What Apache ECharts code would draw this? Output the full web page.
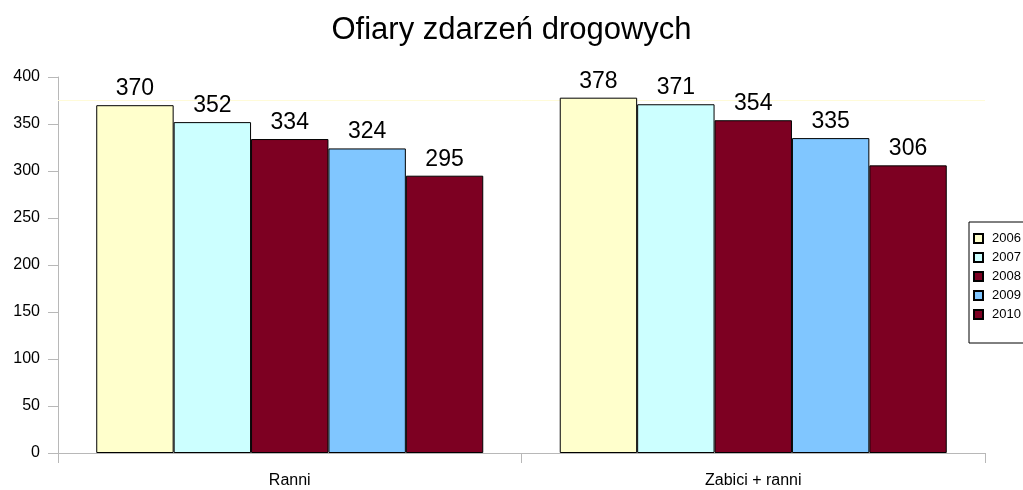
<!DOCTYPE html>
<html>
<head>
<meta charset="utf-8">
<script src="https://cdn.jsdelivr.net/npm/echarts@6/dist/echarts.min.js"></script>
<style>
html, body { margin: 0; padding: 0; background: #fff; }
#chart { width: 1023px; height: 490px; }
</style>
</head>
<body>
<div id="chart"></div>
<script>
var categories = ['Ranni', 'Zabici + ranni'];
var years = ['2006', '2007', '2008', '2009', '2010'];
var values2006 = [370, 378];
var values2007 = [352, 371];
var values2008 = [334, 354];
var values2009 = [324, 335];
var values2010 = [295, 306];
var yearColors = ['#ffffcc', '#ccffff', '#7d0022', '#80c6ff', '#7d0022'];

var seriesValues = [values2006, values2007, values2008, values2009, values2010];
var FONT = 'Liberation Sans, Arial, sans-serif';

function makeSeries(i) {
    var s = {
        name: years[i],
        type: 'bar',
        data: seriesValues[i],
        barGap: '0%',
        barCategoryGap: '16.5%',
        itemStyle: {
            color: yearColors[i],
            borderColor: '#000',
            borderWidth: 1
        },
        label: {
            show: true,
            position: 'top',
            distance: 5,
            color: '#000',
            fontSize: 23,
            fontFamily: FONT
        }
    };
    if (i === 0) {
        // jasna linia w tle
        s.markLine = {
            silent: true,
            symbol: 'none',
            z: 1,
            label: { show: false },
            lineStyle: { color: '#fffbd8', width: 1, type: 'solid' },
            data: [{ yAxis: 375 }]
        };
    }
    return s;
}

var series = [];
for (var i = 0; i < years.length; i++) {
    series.push(makeSeries(i));
}

var chart = echarts.init(document.getElementById('chart'));
chart.setOption({
    animation: false,
    backgroundColor: '#fff',
    title: {
        text: 'Ofiary zdarzeń drogowych',
        left: 'center',
        top: 10,
        textStyle: {
            fontFamily: FONT,
            fontSize: 31,
            fontWeight: 'normal',
            color: '#000'
        }
    },
    legend: {
        orient: 'vertical',
        left: 969,
        top: 222,
        padding: [10, 30, 22, 4],
        icon: 'rect',
        itemWidth: 9,
        itemHeight: 9,
        itemGap: 6,
        borderColor: '#000',
        borderWidth: 1,
        borderRadius: 0,
        textStyle: {
            fontFamily: FONT,
            fontSize: 13,
            color: '#000',
            padding: [0, 0, 0, 4]
        },
        data: years
    },
    grid: {
        left: 58,
        right: 38,
        top: 77,
        bottom: 37,
        containLabel: false
    },
    xAxis: {
        type: 'category',
        data: categories,
        axisLine: { lineStyle: { color: '#b8b8b8' } },
        axisTick: { show: true, length: 10, lineStyle: { color: '#b8b8b8' } },
        axisLabel: {
            margin: 20,
            color: '#000',
            fontSize: 16,
            fontFamily: FONT
        }
    },
    yAxis: {
        type: 'value',
        min: 0,
        max: 400,
        interval: 50,
        axisLine: { show: true, lineStyle: { color: '#b8b8b8' } },
        axisTick: { show: true, length: 10, lineStyle: { color: '#b8b8b8' } },
        splitLine: { show: false },
        axisLabel: {
            margin: 18,
            color: '#000',
            fontSize: 16,
            fontFamily: FONT
        }
    },
    series: series
});
</script>
</body>
</html>
